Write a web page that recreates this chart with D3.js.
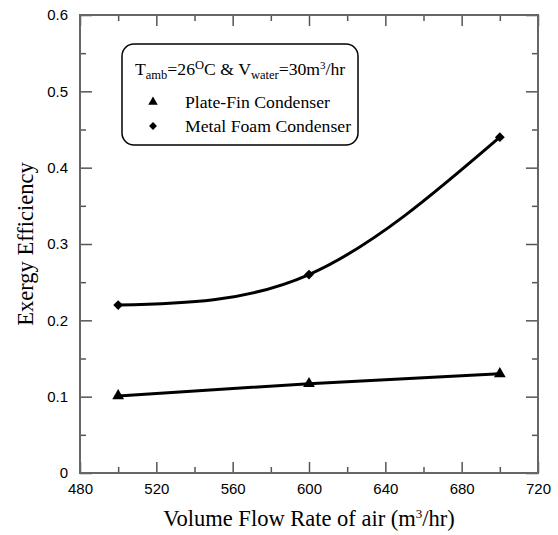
<!DOCTYPE html>
<html>
<head>
<meta charset="utf-8">
<script src="https://cdn.jsdelivr.net/npm/d3@7"></script>
<style>
  body { margin: 0; background: #fff; }
  svg { display: block; }
  .axis path, .axis line { stroke: #555; stroke-width: 1.5px; }
  .axis text { font: 15px 'Liberation Sans', Arial, sans-serif; fill: #000; }
</style>
</head>
<body>
<div id="chart"></div>
<script>
// data
var airFlow = [500, 600, 700];
var plateFin = [0.101, 0.117, 0.130];
var metalFoam = [0.220, 0.260, 0.440];
var xTicks = [480, 520, 560, 600, 640, 680, 720];
var xMinor = [500, 540, 580, 620, 660, 700];
var yTicks = [0, 0.1, 0.2, 0.3, 0.4, 0.5, 0.6];
var yMinor = [0.05, 0.15, 0.25, 0.35, 0.45, 0.55];

var width = 558, height = 535;
var margin = {top: 15, right: 20, bottom: 62, left: 80};

var svg = d3.select("#chart").append("svg")
    .attr("width", width)
    .attr("height", height);

var x = d3.scaleLinear().domain([480, 720]).range([margin.left, width - margin.right]);
var y = d3.scaleLinear().domain([0, 0.6]).range([height - margin.bottom, margin.top]);

var fmtY = function(d) { return d === 0 ? "0" : d3.format(".1f")(d); };

// major ticks with labels (inward), minor ticks without
svg.append("g").attr("class", "axis")
    .attr("transform", "translate(0," + y(0) + ")")
    .call(d3.axisBottom(x).tickValues(xTicks).tickSizeInner(-11).tickSizeOuter(0).tickPadding(10).tickFormat(d3.format("d")));
svg.append("g").attr("class", "axis")
    .attr("transform", "translate(0," + y(0) + ")")
    .call(d3.axisBottom(x).tickValues(xMinor).tickSizeInner(-6).tickSizeOuter(0).tickFormat(""));
svg.append("g").attr("class", "axis")
    .attr("transform", "translate(0," + y(0.6) + ")")
    .call(d3.axisTop(x).tickValues(xTicks).tickSizeInner(-11).tickSizeOuter(0).tickFormat(""));
svg.append("g").attr("class", "axis")
    .attr("transform", "translate(0," + y(0.6) + ")")
    .call(d3.axisTop(x).tickValues(xMinor).tickSizeInner(-6).tickSizeOuter(0).tickFormat(""));

svg.append("g").attr("class", "axis")
    .attr("transform", "translate(" + x(480) + ",0)")
    .call(d3.axisLeft(y).tickValues(yTicks).tickSizeInner(-12).tickSizeOuter(0).tickPadding(12).tickFormat(fmtY));
svg.append("g").attr("class", "axis")
    .attr("transform", "translate(" + x(480) + ",0)")
    .call(d3.axisLeft(y).tickValues(yMinor).tickSizeInner(-6).tickSizeOuter(0).tickFormat(""));
svg.append("g").attr("class", "axis")
    .attr("transform", "translate(" + x(720) + ",0)")
    .call(d3.axisRight(y).tickValues(yTicks).tickSizeInner(-12).tickSizeOuter(0).tickFormat(""));
svg.append("g").attr("class", "axis")
    .attr("transform", "translate(" + x(720) + ",0)")
    .call(d3.axisRight(y).tickValues(yMinor).tickSizeInner(-6).tickSizeOuter(0).tickFormat(""));

svg.selectAll(".axis .domain").remove();

// frame
svg.append("rect")
    .attr("x", x(480)).attr("y", y(0.6))
    .attr("width", x(720) - x(480)).attr("height", y(0) - y(0.6))
    .attr("fill", "none").attr("stroke", "#666").attr("stroke-width", 2);

// axis titles
var serif = "'Liberation Serif', 'Times New Roman', serif";
var xTitle = svg.append("text")
    .attr("x", (x(480) + x(720)) / 2)
    .attr("y", 526)
    .attr("text-anchor", "middle")
    .style("font-family", serif).style("font-size", "22.5px");
xTitle.append("tspan").text("Volume Flow Rate of air (m");
xTitle.append("tspan").attr("dy", -8).style("font-size", "13px").text("3");
xTitle.append("tspan").attr("dy", 8).text("/hr)");

svg.append("text")
    .attr("transform", "translate(33," + ((y(0) + y(0.6)) / 2) + ") rotate(-90)")
    .attr("text-anchor", "middle")
    .style("font-family", serif).style("font-size", "22.5px")
    .text("Exergy Efficiency");

// curves
var line = d3.line()
    .x(function(d) { return x(d[0]); })
    .y(function(d) { return y(d[1]); })
    .curve(d3.curveNatural);

var series = [
    {name: "Plate-Fin Condenser", values: d3.zip(airFlow, plateFin), symbol: d3.symbolTriangle, size: 60, rot: 0},
    {name: "Metal Foam Condenser", values: d3.zip(airFlow, metalFoam), symbol: d3.symbolSquare, size: 48, rot: 45}
];

series.forEach(function(s) {
    svg.append("path")
        .attr("d", line(s.values))
        .attr("fill", "none")
        .attr("stroke", "#000")
        .attr("stroke-width", 3);
    svg.append("g").selectAll("path").data(s.values).enter().append("path")
        .attr("transform", function(d) {
            return "translate(" + x(d[0]) + "," + y(d[1]) + ") rotate(" + s.rot + ")";
        })
        .attr("d", d3.symbol().type(s.symbol).size(s.size))
        .attr("fill", "#000");
});

// legend
var lg = svg.append("g");
lg.append("rect")
    .attr("x", 122).attr("y", 44)
    .attr("width", 236).attr("height", 101)
    .attr("rx", 12).attr("ry", 12)
    .attr("fill", "#fff").attr("stroke", "#000").attr("stroke-width", 1.5);

var head = lg.append("text")
    .attr("x", 135).attr("y", 75)
    .style("font-family", serif).style("font-size", "17.7px");
head.append("tspan").text("T");
head.append("tspan").attr("dy", 4).style("font-size", "12.5px").text("amb");
head.append("tspan").attr("dy", -4).text("=26");
head.append("tspan").attr("dy", -6).style("font-size", "12.5px").text("O");
head.append("tspan").attr("dy", 6).text("C & V");
head.append("tspan").attr("dy", 4).style("font-size", "12.5px").text("water");
head.append("tspan").attr("dy", -4).text("=30m");
head.append("tspan").attr("dy", -6).style("font-size", "11px").text("3");
head.append("tspan").attr("dy", 6).text("/hr");

series.forEach(function(s, i) {
    var yy = 102 + i * 24;
    lg.append("path")
        .attr("transform", "translate(153," + yy + ") rotate(" + s.rot + ")")
        .attr("d", d3.symbol().type(s.symbol).size(s.size * 0.65))
        .attr("fill", "#000");
    lg.append("text")
        .attr("x", 185).attr("y", yy + 6)
        .style("font-family", serif).style("font-size", "17.7px")
        .text(s.name);
});
</script>
</body>
</html>
